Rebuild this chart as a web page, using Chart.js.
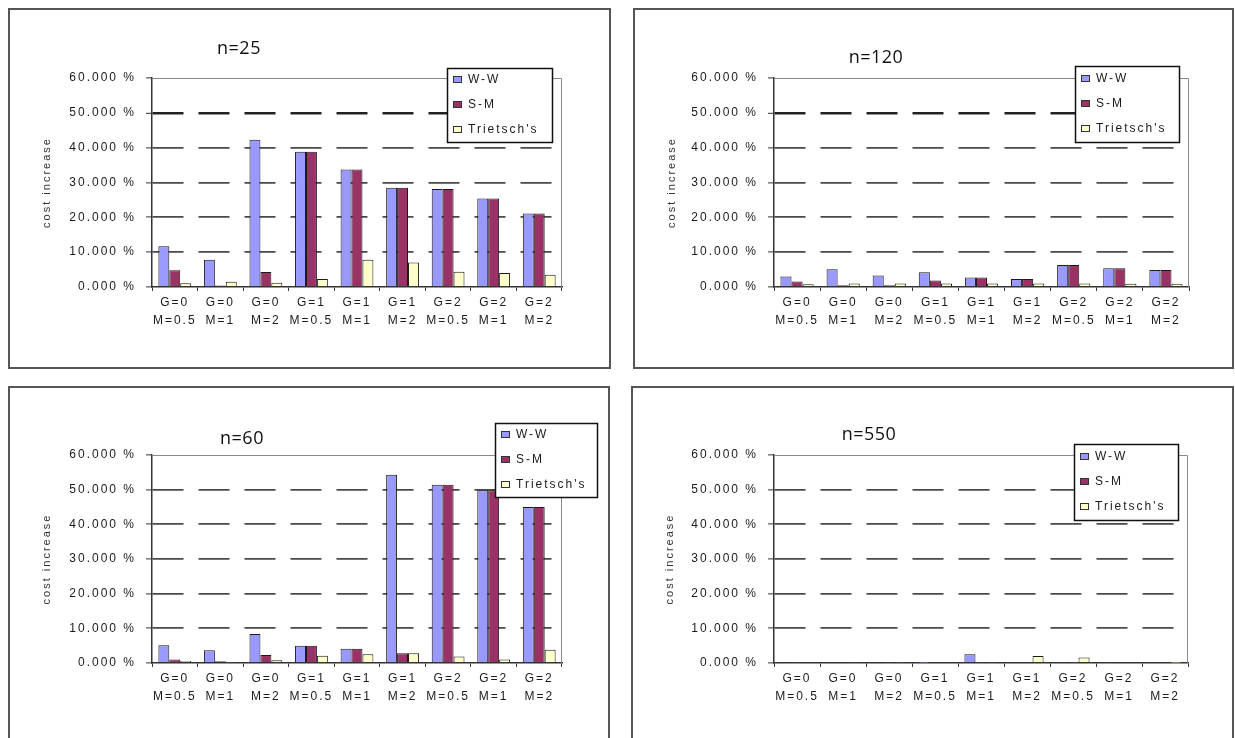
<!DOCTYPE html>
<html>
<head>
<meta charset="utf-8">
<script src="https://cdn.jsdelivr.net/npm/chart.js@4.4.0/dist/chart.umd.min.js"></script>
<style>
  html, body { margin: 0; padding: 0; background: #fff; width: 1235px; height: 738px; overflow: hidden; }
  .panel { position: absolute; }
  .panel canvas { position: absolute; left: 0; top: 0; }
  .frame { position: absolute; left: 0; top: 0; right: 0; bottom: 0; border: 2px solid #555; box-sizing: border-box; pointer-events: none; }
</style>
</head>
<body>
<div class="panel" id="p1"><canvas id="c1"></canvas><div class="frame"></div></div>
<div class="panel" id="p2"><canvas id="c2"></canvas><div class="frame"></div></div>
<div class="panel" id="p3"><canvas id="c3"></canvas><div class="frame"></div></div>
<div class="panel" id="p4"><canvas id="c4"></canvas><div class="frame"></div></div>
<script>
// Scenario labels (two lines each)
const categories = [
  ['G=0', 'M=0.5'], ['G=0', 'M=1'], ['G=0', 'M=2'],
  ['G=1', 'M=0.5'], ['G=1', 'M=1'], ['G=1', 'M=2'],
  ['G=2', 'M=0.5'], ['G=2', 'M=1'], ['G=2', 'M=2']
];
const seriesNames = ['W-W', 'S-M', "Trietsch's"];
const seriesColors = ['#9999FF', '#993366', '#FFFFCC'];
const yTickValues = [0, 10, 20, 30, 40, 50, 60];
const yAxisTitle = 'cost increase';
const panelTitles = ['n=25', 'n=120', 'n=60', 'n=550'];

// Cost increase (%) per heuristic
const ww25  = [11.7, 7.8, 42.3, 38.8, 33.7, 28.5, 28.1, 25.4, 21.1];
const sm25  = [4.8, 0.4, 4.3, 38.8, 33.7, 28.5, 28.1, 25.4, 21.1];
const tr25  = [1.1, 1.5, 1.2, 2.3, 7.8, 7.0, 4.4, 4.0, 3.5];

const ww120 = [3.0, 5.1, 3.3, 4.2, 2.7, 2.3, 6.3, 5.4, 4.9];
const sm120 = [1.6, 0.5, 0.5, 1.9, 2.7, 2.3, 6.3, 5.4, 4.9];
const tr120 = [0.8, 1.0, 1.0, 1.0, 1.0, 1.0, 1.0, 0.9, 0.9];

const ww60  = [5.1, 3.7, 8.4, 5.0, 4.1, 54.3, 51.4, 49.8, 45.0];
const sm60  = [1.0, 0.5, 2.3, 5.0, 4.1, 2.8, 51.4, 49.8, 45.0];
const tr60  = [0.6, 0.2, 0.8, 2.1, 2.5, 2.8, 1.9, 1.0, 3.8];

const ww550 = [0.3, 0.3, 0.3, 0.1, 2.5, 0.3, 0.2, 0.2, 0.0];
const sm550 = [0.1, 0.0, 0.1, 0.3, 0.1, 0.3, 0.1, 0.0, 0.0];
const tr550 = [0.0, 0.2, 0.2, 0.0, 0.2, 2.0, 1.6, 0.0, 0.1];

// Panel placement on the page and inner plot rectangles (canvas-local)
const panels = [
  { id: 'c1', wrap: 'p1', title: panelTitles[0], values: [ww25, sm25, tr25],
    box: { left: 8, top: 8, width: 603, height: 361 },
    plot: { left: 144, right: 554, top: 70, bottom: 279 },
    titlePos: { x: 231, y: 41 }, legendBox: { x: 439, y: 60, w: 105, h: 74 }, strong50: true },
  { id: 'c2', wrap: 'p2', title: panelTitles[1], values: [ww120, sm120, tr120],
    box: { left: 633, top: 8, width: 601, height: 361 },
    plot: { left: 141, right: 556, top: 70, bottom: 279 },
    titlePos: { x: 243, y: 50 }, legendBox: { x: 442, y: 58, w: 104, h: 76 }, strong50: true },
  { id: 'c3', wrap: 'p3', title: panelTitles[2], values: [ww60, sm60, tr60],
    box: { left: 8, top: 386, width: 602, height: 380 },
    plot: { left: 144, right: 554, top: 69, bottom: 277 },
    titlePos: { x: 234, y: 53 }, legendBox: { x: 487, y: 37, w: 102, h: 74 }, strong50: false },
  { id: 'c4', wrap: 'p4', title: panelTitles[3], values: [ww550, sm550, tr550],
    box: { left: 631, top: 386, width: 603, height: 380 },
    plot: { left: 143, right: 557, top: 69, bottom: 277 },
    titlePos: { x: 238, y: 49 }, legendBox: { x: 443, y: 58, w: 104, h: 76 }, strong50: false }
];

Chart.defaults.font.family = '"Liberation Sans", Arial, sans-serif';
Chart.defaults.color = '#1a1a1a';

const TEXT_SPACING = '2px';
const X_AXIS_H = 50;

// Wide letter spacing for axis text
const spacingPlugin = {
  id: 'spacing',
  beforeUpdate(c) { c.ctx.letterSpacing = TEXT_SPACING; },
  beforeLayout(c) { c.ctx.letterSpacing = TEXT_SPACING; },
  beforeDraw(c) { c.ctx.letterSpacing = TEXT_SPACING; }
};

// Plot frame (top/right), panel title and boxed legend
const decorPlugin = {
  id: 'decor',
  beforeDatasetsDraw(c, args, opts) {
    const { ctx, chartArea: a } = c;
    ctx.save();
    ctx.strokeStyle = '#8a8a8a';
    ctx.lineWidth = 1;
    ctx.beginPath();
    ctx.moveTo(a.left, a.top + 0.5);
    ctx.lineTo(a.right - 0.5, a.top + 0.5);
    ctx.lineTo(a.right - 0.5, a.bottom);
    ctx.stroke();
    ctx.restore();
  },
  afterDraw(c, args, opts) {
    const { ctx } = c;
    // title
    ctx.save();
    ctx.letterSpacing = '0.5px';
    ctx.font = '18px "Open Sans", sans-serif';
    ctx.fillStyle = '#111';
    ctx.textAlign = 'center';
    ctx.textBaseline = 'middle';
    ctx.fillText(opts.title, opts.titlePos.x, opts.titlePos.y);
    ctx.restore();

    // legend
    const L = opts.legendBox;
    ctx.save();
    ctx.fillStyle = '#fff';
    ctx.fillRect(L.x, L.y, L.w, L.h);
    ctx.strokeStyle = '#111';
    ctx.lineWidth = 1.5;
    ctx.strokeRect(L.x + 0.5, L.y + 0.5, L.w, L.h);
    ctx.letterSpacing = TEXT_SPACING;
    ctx.font = '12px "Liberation Sans", Arial, sans-serif';
    ctx.textBaseline = 'middle';
    ctx.textAlign = 'left';
    const step = L.h / 3;
    c.data.datasets.forEach((ds, i) => {
      const cy = Math.round(L.y + step * (i + 0.5));
      ctx.fillStyle = ds.backgroundColor;
      ctx.fillRect(L.x + 6, cy - 4, 9, 7);
      ctx.strokeStyle = '#333';
      ctx.lineWidth = 1;
      ctx.strokeRect(L.x + 6.5, cy - 3.5, 8, 6);
      ctx.fillStyle = '#1a1a1a';
      ctx.fillText(ds.label, L.x + 21, cy);
    });
    ctx.restore();
  }
};

panels.forEach(p => {
  const wrap = document.getElementById(p.wrap);
  Object.assign(wrap.style, {
    left: p.box.left + 'px', top: p.box.top + 'px',
    width: p.box.width + 'px', height: p.box.height + 'px'
  });
  const cv = document.getElementById(p.id);
  cv.width = p.box.width; cv.height = p.box.height;
  cv.style.width = p.box.width + 'px'; cv.style.height = p.box.height + 'px';

  const datasets = seriesNames.map((name, i) => ({
    label: name,
    data: p.values[i],
    backgroundColor: seriesColors[i],
    borderColor: '#1a1a1a',
    borderWidth: 1,
    categoryPercentage: 0.72,
    barPercentage: 1.0
  }));

  new Chart(cv, {
    type: 'bar',
    data: { labels: categories, datasets },
    plugins: [spacingPlugin, decorPlugin],
    options: {
      responsive: false,
      animation: false,
      devicePixelRatio: 1,
      layout: {
        padding: {
          left: 0,
          top: p.plot.top,
          right: p.box.width - p.plot.right,
          bottom: p.box.height - p.plot.bottom - X_AXIS_H
        }
      },
      plugins: {
        legend: { display: false },
        title: { display: false },
        tooltip: { enabled: false },
        decor: { title: p.title, titlePos: p.titlePos, legendBox: p.legendBox }
      },
      scales: {
        x: {
          type: 'category',
          offset: true,
          afterFit(s) { s.height = X_AXIS_H; },
          grid: {
            display: true, drawOnChartArea: false, drawTicks: true,
            offset: true, tickLength: 4, tickColor: '#333', tickWidth: 1
          },
          border: { display: true, color: '#333', width: 1.5 },
          ticks: {
            autoSkip: false, maxRotation: 0, minRotation: 0, padding: 3,
            color: '#1a1a1a',
            font: { size: 12, lineHeight: 1.5 }
          }
        },
        y: {
          min: 0, max: 60,
          afterFit(s) { s.width = p.plot.left; },
          afterBuildTicks(s) { s.ticks = yTickValues.map(v => ({ value: v })); },
          grid: {
            drawTicks: true, tickLength: 6, tickColor: '#333', tickWidth: 1,
            color: ctx => {
              const v = ctx.tick ? ctx.tick.value : null;
              if (v === 0 || v === 60) return 'rgba(0,0,0,0)';
              if (p.strong50 && v === 50) return '#222';
              return '#4a4a4a';
            },
            lineWidth: ctx => (p.strong50 && ctx.tick && ctx.tick.value === 50) ? 2.6 : 1.8
          },
          border: { display: true, color: '#333', width: 1.5, dash: [31, 15], dashOffset: 0 },
          ticks: {
            padding: 10,
            color: '#1a1a1a',
            font: { size: 12 },
            callback: v => Number(v).toFixed(3) + ' %'
          },
          title: {
            display: true,
            text: yAxisTitle,
            color: '#333',
            font: { size: 11 },
            padding: { top: 32, bottom: 0 }
          }
        }
      }
    }
  });
});
</script>
</body>
</html>
